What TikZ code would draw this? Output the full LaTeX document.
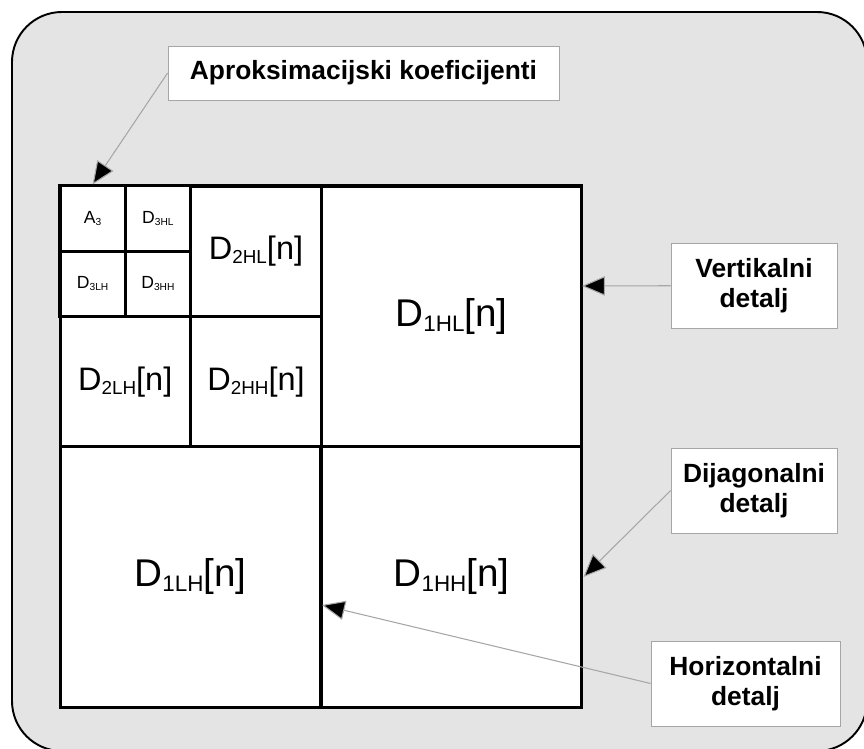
\documentclass[tikz,border=0pt]{standalone}
\usepackage{fontspec}
\setmainfont{Liberation Sans}
\usetikzlibrary{arrows.meta}
\definecolor{panel}{RGB}{228,228,228}
\newcommand{\idx}[1]{\raisebox{-0.12em}{\scalebox{0.58}{#1}}}
\begin{document}
\begin{tikzpicture}[x=0.02cm,y=-0.02cm,
    cell/.style={draw,line width=1.7pt,inner sep=0pt,minimum size=#1},
    note/.style={draw=gray!70,fill=white,line width=0.5pt,align=center,
      font=\bfseries\fontsize{15}{17}\selectfont,minimum height=1.7cm,minimum width=3.32cm},
    pointer/.style={draw=gray!70,line width=0.6pt,-{Triangle[length=13pt,width=11pt,fill=black]}}]
  \useasboundingbox (0,0) rectangle (864,749);
  \clip (0,0) rectangle (864,749);
  \draw[line width=1.1pt,fill=panel,rounded corners=1cm] (12,12) rectangle (867,751);
  \node[cell=10.44cm,fill=white] (frame) at (321,446.5) {};
  % level 1
  \node[cell=5.22cm,font=\fontsize{22}{26}\selectfont] (d1hl) at (451.5,316.5) {D\idx{1HL}[n]};
  \node[cell=5.22cm,font=\fontsize{22}{26}\selectfont] (d1lh) at (190.5,577) {D\idx{1LH}[n]};
  \node[cell=5.22cm,font=\fontsize{22}{26}\selectfont] (d1hh) at (451.5,577) {D\idx{1HH}[n]};
  % level 2
  \node[cell=2.61cm,font=\fontsize{18.5}{22}\selectfont] (d2hl) at (256,251.25) {D\idx{2HL}[n]};
  \node[cell=2.61cm,font=\fontsize{18.5}{22}\selectfont] (d2lh) at (125.25,381.75) {D\idx{2LH}[n]};
  \node[cell=2.61cm,font=\fontsize{18.5}{22}\selectfont] (d2hh) at (256,381.75) {D\idx{2HH}[n]};
  % level 3
  \node[cell=1.305cm,font=\fontsize{10}{12}\selectfont] (a3) at (92.6,218.6) {A\idx{3}};
  \node[cell=1.305cm,font=\fontsize{10}{12}\selectfont] (d3hl) at (157.9,218.6) {D\idx{3HL}};
  \node[cell=1.305cm,font=\fontsize{10}{12}\selectfont] (d3lh) at (92.6,283.9) {D\idx{3LH}};
  \node[cell=1.305cm,font=\fontsize{10}{12}\selectfont] (d3hh) at (157.9,283.9) {D\idx{3HH}};
  % labels
  \node[note,minimum width=7.82cm,minimum height=1.08cm] (aprox) at (363.5,73) {Aproksimacijski koeficijenti};
  \node[note] (vert) at (754,285.5) {Vertikalni\\detalj};
  \node[note] (dijag) at (754,490.5) {Dijagonalni\\detalj};
  \node[note,minimum width=3.78cm] (horiz) at (745.5,683.5) {Horizontalni\\detalj};
  \coordinate (vtip) at (582,286);
  \coordinate (htip) at (322,605);
  \path
  (aprox.west) edge[pointer] (a3.north)
  (vert) edge[pointer] (vtip)
  (dijag.west) edge[pointer] (d1hh.east)
  (horiz.west) edge[pointer] (htip);
\end{tikzpicture}
\end{document}
